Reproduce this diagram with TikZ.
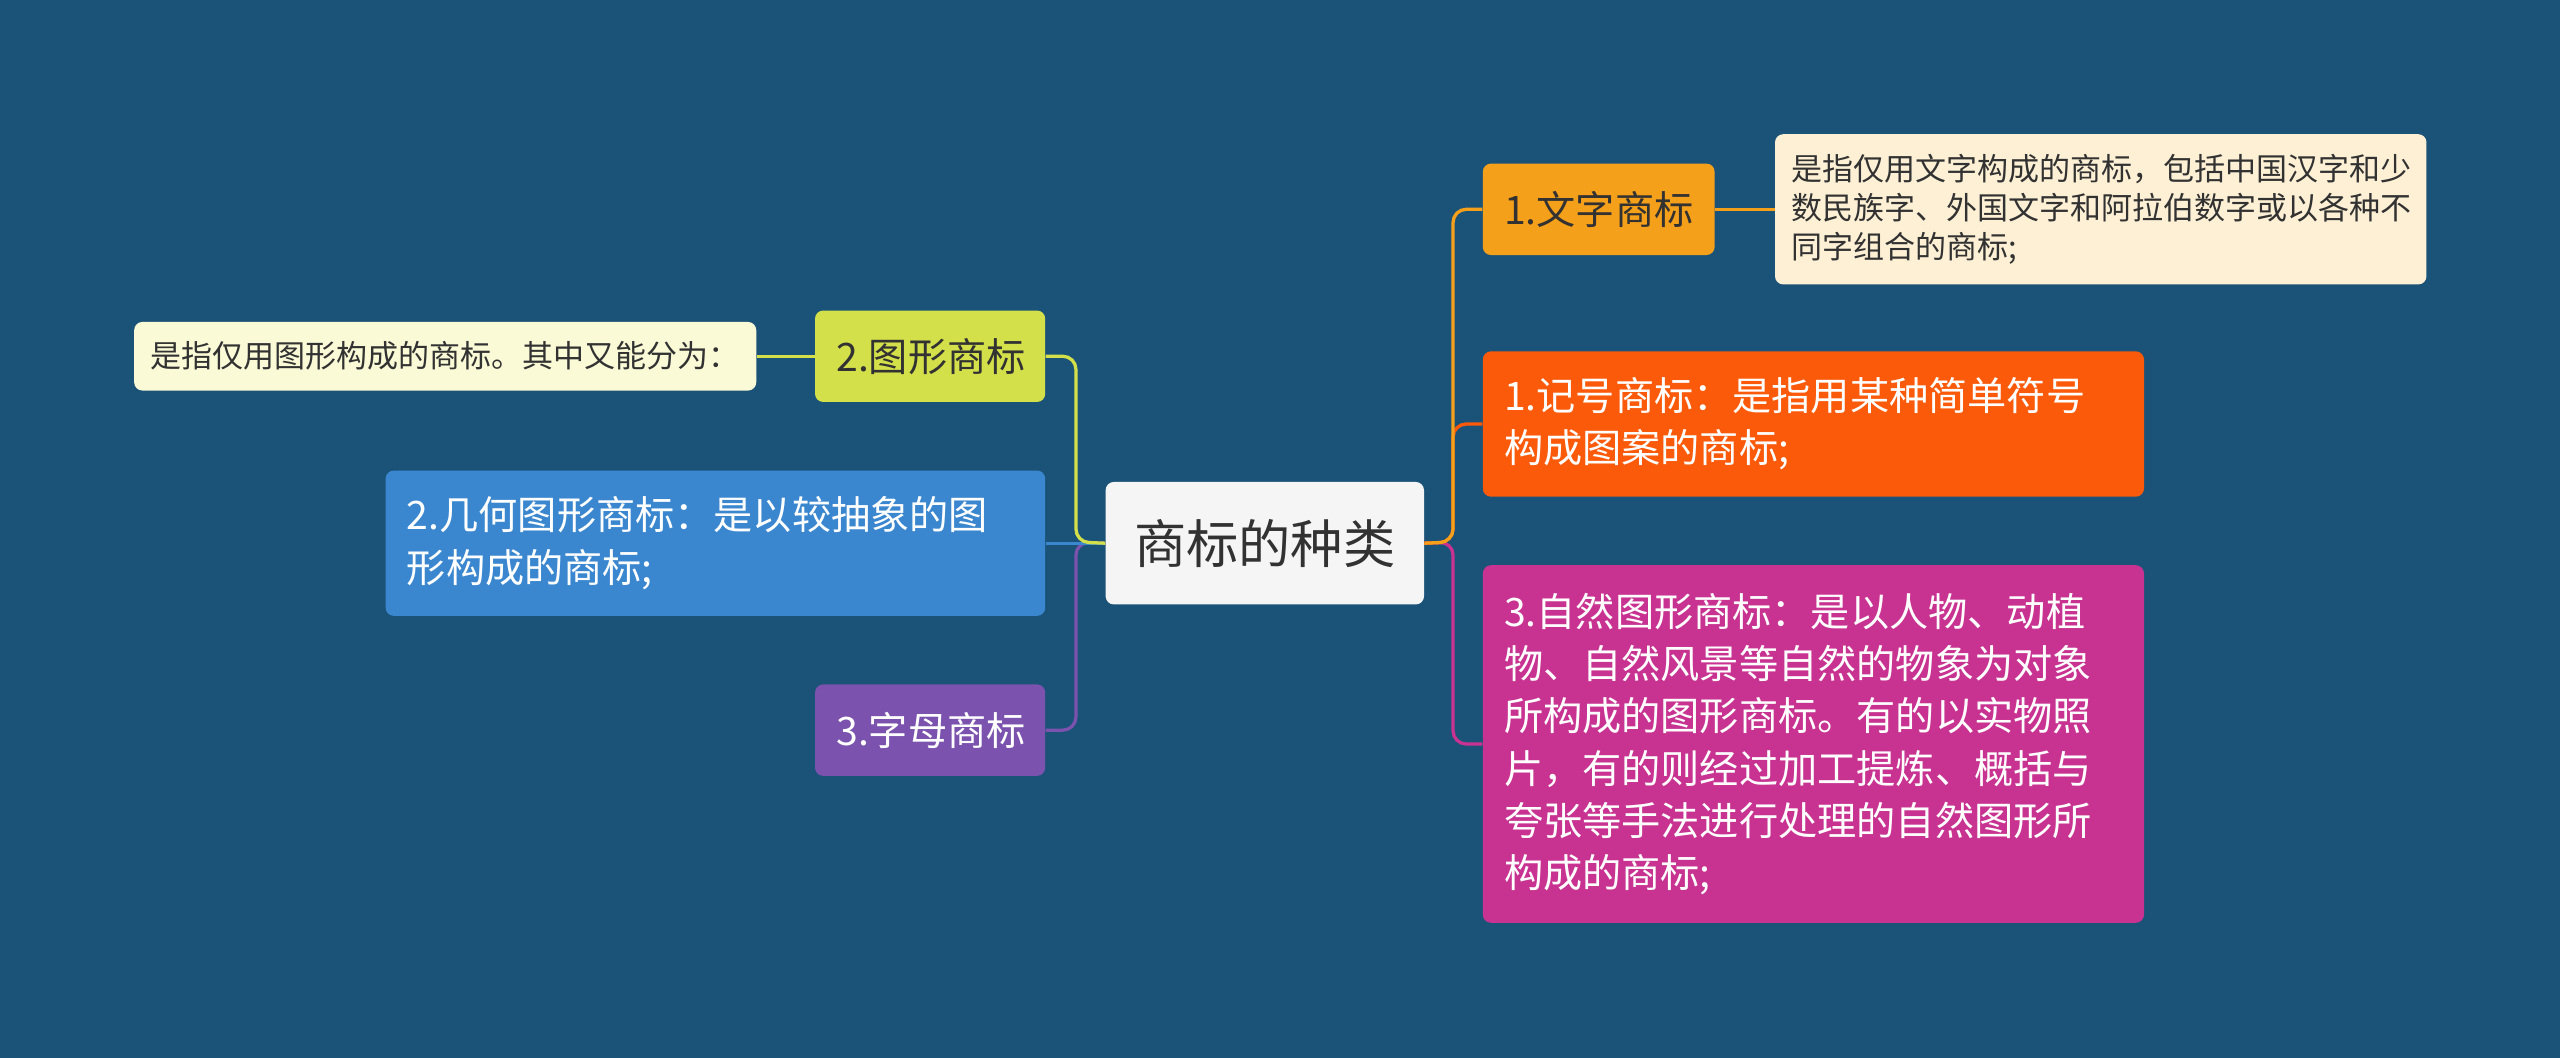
\documentclass[tikz,border=0pt]{standalone}
\usepackage{fontspec}
\setmainfont{Noto Sans CJK SC}
\usetikzlibrary{positioning}
\definecolor{bg}{RGB}{27,83,120}
\definecolor{wenzi}{RGB}{245,160,26}
\definecolor{jihao}{RGB}{250,90,10}
\definecolor{ziran}{RGB}{200,50,145}
\definecolor{tuxing}{RGB}{212,224,74}
\definecolor{jihe}{RGB}{58,135,208}
\definecolor{zimu}{RGB}{123,82,174}
\definecolor{cream}{RGB}{253,240,213}
\definecolor{pale}{RGB}{250,250,215}
\definecolor{ink}{RGB}{50,50,50}
\begin{document}
\begin{tikzpicture}[x=1pt,y=-1pt,
    box/.style={rounded corners=5pt, inner xsep=13pt, inner ysep=0pt, align=left, anchor=north west},
    main/.style={box, font=\fontsize{24}{32}\selectfont},
    small/.style={box, font=\fontsize{19}{24}\selectfont, text=ink, inner xsep=10pt},
    link/.style={line width=2pt, rounded corners=8pt}]
  \fill[bg] (0,0) rectangle (1568,648);
  \useasboundingbox (0,0) rectangle (1568,648);

  \node[box, fill=gray!8, text=ink, font=\fontsize{32}{36}\selectfont, text width=169pt, minimum height=75pt, align=center] (root) at (677,295) {商标的种类};

  \node[main, fill=wenzi, text=ink, text width=116pt, minimum height=56pt] (wenzi) at (908,100) {1.文字商标};
  \node[small, fill=cream, text width=379pt, minimum height=92pt] (wenzid) at (1087,82) {是指仅用文字构成的商标，包括中国汉字和少\\数民族字、外国文字和阿拉伯数字或以各种不\\同字组合的商标;};
  \node[main, fill=jihao, text=white, text width=379pt, minimum height=89pt] (jihao) at (908,215) {1.记号商标：是指用某种简单符号\\构成图案的商标;};
  \node[main, fill=ziran, text=white, text width=379pt, minimum height=219pt] (ziran) at (908,346) {3.自然图形商标：是以人物、动植\\物、自然风景等自然的物象为对象\\所构成的图形商标。有的以实物照\\片，有的则经过加工提炼、概括与\\夸张等手法进行处理的自然图形所\\构成的商标;};

  \node[main, fill=tuxing, text=ink, text width=115pt, minimum height=56pt] (tuxing) at (499,190) {2.图形商标};
  \node[small, fill=pale, text width=361pt, minimum height=42pt] (tuxingd) at (82,197) {是指仅用图形构成的商标。其中又能分为：};
  \node[main, fill=jihe, text=white, text width=378pt, minimum height=89pt] (jihe) at (236,288) {2.几何图形商标：是以较抽象的图\\形构成的商标;};
  \node[main, fill=zimu, text=white, text width=115pt, minimum height=56pt] (zimu) at (499,419) {3.字母商标};

  \coordinate (jr) at (890,332);
  \coordinate (jl) at (659,332);

  \draw[link, ziran] (root.east) -- (jr) |- (ziran.west);
  \draw[link, jihao] (root.east) -- (jr) |- (jihao.west);
  \draw[link, wenzi] (root.east) -- (jr) |- (wenzi.west);
  \draw[link, wenzi] (wenzi.east) -- (wenzid.west);

  \draw[link, zimu] (root.west) -- (jl) |- (zimu.east);
  \draw[link, jihe] (root.west) -- (jihe.east);
  \draw[link, tuxing] (root.west) -- (jl) |- (tuxing.east);
  \draw[link, tuxing] (tuxing.west) -- (tuxingd.east);
\end{tikzpicture}
\end{document}
